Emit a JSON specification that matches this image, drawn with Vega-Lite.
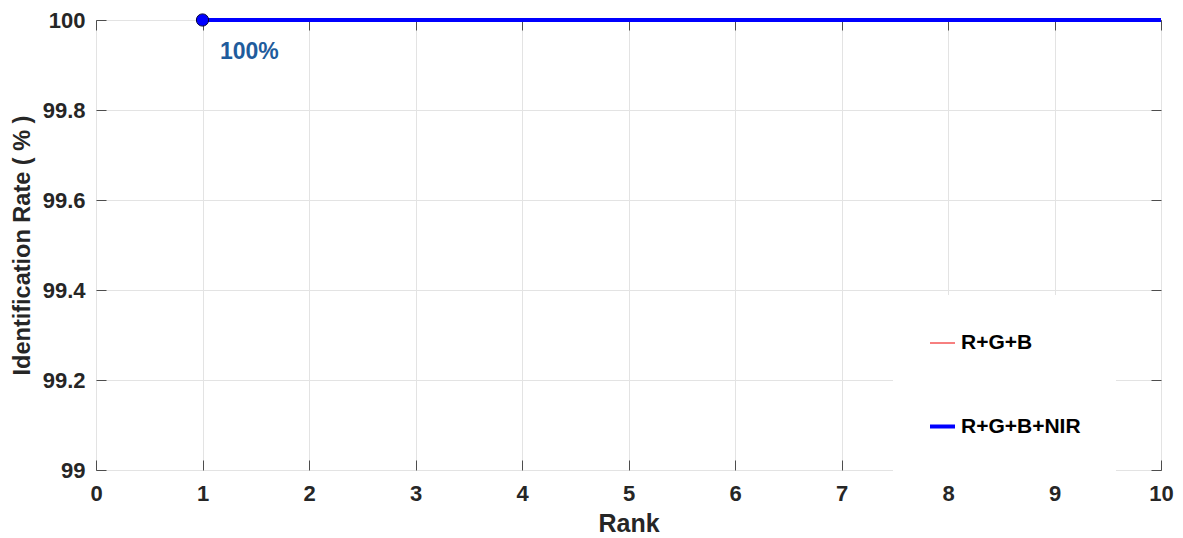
{
  "$schema": "https://vega.github.io/schema/vega-lite/v6.json",
  "width": 1065,
  "height": 450,
  "autosize": {"type": "none"},
  "padding": {"left": 96, "top": 20, "right": 22, "bottom": 68},
  "background": "white",
  "config": {
    "view": {"stroke": "#404040", "strokeWidth": 1},
    "font": "Liberation Sans",
    "axis": {
      "labelFont": "Liberation Sans",
      "titleFont": "Liberation Sans",
      "labelFontWeight": "bold",
      "titleFontWeight": "bold",
      "labelFontSize": 22,
      "titleFontSize": 25,
      "labelColor": "#262626",
      "titleColor": "#262626",
      "domainColor": "#404040",
      "tickColor": "#4d4d4d",
      "gridColor": "#e3e3e3",
      "gridOpacity": 1,
      "labelFlush": false
    }
  },
  "resolve": {"axis": {"x": "independent", "y": "independent"}},
  "datasets": {
    "series": [
      {"rank": 1, "rate": 100, "method": "R+G+B"},
      {"rank": 2, "rate": 100, "method": "R+G+B"},
      {"rank": 3, "rate": 100, "method": "R+G+B"},
      {"rank": 4, "rate": 100, "method": "R+G+B"},
      {"rank": 5, "rate": 100, "method": "R+G+B"},
      {"rank": 6, "rate": 100, "method": "R+G+B"},
      {"rank": 7, "rate": 100, "method": "R+G+B"},
      {"rank": 8, "rate": 100, "method": "R+G+B"},
      {"rank": 9, "rate": 100, "method": "R+G+B"},
      {"rank": 10, "rate": 100, "method": "R+G+B"},
      {"rank": 1, "rate": 100, "method": "R+G+B+NIR"},
      {"rank": 2, "rate": 100, "method": "R+G+B+NIR"},
      {"rank": 3, "rate": 100, "method": "R+G+B+NIR"},
      {"rank": 4, "rate": 100, "method": "R+G+B+NIR"},
      {"rank": 5, "rate": 100, "method": "R+G+B+NIR"},
      {"rank": 6, "rate": 100, "method": "R+G+B+NIR"},
      {"rank": 7, "rate": 100, "method": "R+G+B+NIR"},
      {"rank": 8, "rate": 100, "method": "R+G+B+NIR"},
      {"rank": 9, "rate": 100, "method": "R+G+B+NIR"},
      {"rank": 10, "rate": 100, "method": "R+G+B+NIR"}
    ],
    "marker": [{"rank": 1, "rate": 100, "label": "100%", "lx": 1.44, "ly": 99.93}]
  },
  "layer": [
    {
      "data": {"name": "series"},
      "mark": {"type": "line", "clip": false},
      "encoding": {
        "x": {
          "field": "rank", "type": "quantitative",
          "scale": {"domain": [0, 10], "nice": false},
          "axis": {
            "orient": "bottom",
            "title": "Rank", "values": [0,1,2,3,4,5,6,7,8,9,10], "format": "d",
            "ticks": false, "domain": false, "labelPadding": 13, "titlePadding": 7, "grid": true
          }
        },
        "y": {
          "field": "rate", "type": "quantitative",
          "scale": {"domain": [99, 100], "nice": false, "zero": false},
          "axis": {
            "orient": "left",
            "title": "Identification Rate ( % )", "titleFontSize": 23.5, "values": [99, 99.2, 99.4, 99.6, 99.8, 100],
            "format": "~f", "ticks": false, "domain": false, "labelPadding": 11, "titlePadding": 8, "grid": true
          }
        },
        "color": {
          "field": "method", "type": "nominal",
          "scale": {"domain": ["R+G+B", "R+G+B+NIR"], "range": ["#ee0000", "#0000ff"]},
          "legend": {
            "title": null,
            "orient": "none",
            "legendX": 797,
            "legendY": 275,
            "fillColor": "white",
            "padding": 35,
            "symbolType": "stroke",
            "symbolSize": 625,
            "rowPadding": 59,
            "labelFont": "Liberation Sans",
            "labelFontSize": 21,
            "labelFontWeight": "bold",
            "labelColor": "#000000",
            "labelOffset": 4
          }
        },
        "strokeWidth": {
          "field": "method", "type": "nominal",
          "scale": {"domain": ["R+G+B", "R+G+B+NIR"], "range": [1, 4]},
          "legend": {
            "title": null,
            "orient": "none",
            "legendX": 797,
            "legendY": 275,
            "fillColor": "white",
            "padding": 35,
            "symbolType": "stroke",
            "symbolSize": 625,
            "rowPadding": 59,
            "labelFont": "Liberation Sans",
            "labelFontSize": 21,
            "labelFontWeight": "bold",
            "labelColor": "#000000",
            "labelOffset": 4
          }
        }
      }
    },
    {
      "data": {"name": "marker"},
      "mark": {"type": "point", "filled": true, "size": 150, "color": "#0000ff", "stroke": "#00003a", "strokeWidth": 1, "opacity": 1, "clip": false},
      "encoding": {
        "x": {"field": "rank", "type": "quantitative",
          "axis": {"orient": "bottom", "offset": -10, "tickSize": 10, "labels": false, "domain": false, "grid": false, "title": null, "values": [0,1,2,3,4,5,6,7,8,9,10]}},
        "y": {"field": "rate", "type": "quantitative",
          "axis": {"orient": "left", "offset": -10, "tickSize": 10, "labels": false, "domain": false, "grid": false, "title": null, "values": [99, 99.2, 99.4, 99.6, 99.8, 100]}}
      }
    },
    {
      "data": {"name": "marker"},
      "mark": {"type": "text", "font": "Liberation Sans", "fontSize": 23, "fontWeight": "bold", "color": "#1f5c9c", "align": "center", "baseline": "middle"},
      "encoding": {
        "x": {"field": "lx", "type": "quantitative",
          "axis": {"orient": "top", "offset": -10, "tickSize": 10, "labels": false, "domain": false, "grid": false, "title": null, "values": [0,1,2,3,4,5,6,7,8,9,10]}},
        "y": {"field": "ly", "type": "quantitative",
          "axis": {"orient": "right", "offset": -10, "tickSize": 10, "labels": false, "domain": false, "grid": false, "title": null, "values": [99, 99.2, 99.4, 99.6, 99.8, 100]}},
        "text": {"field": "label"}
      }
    }
  ]
}
